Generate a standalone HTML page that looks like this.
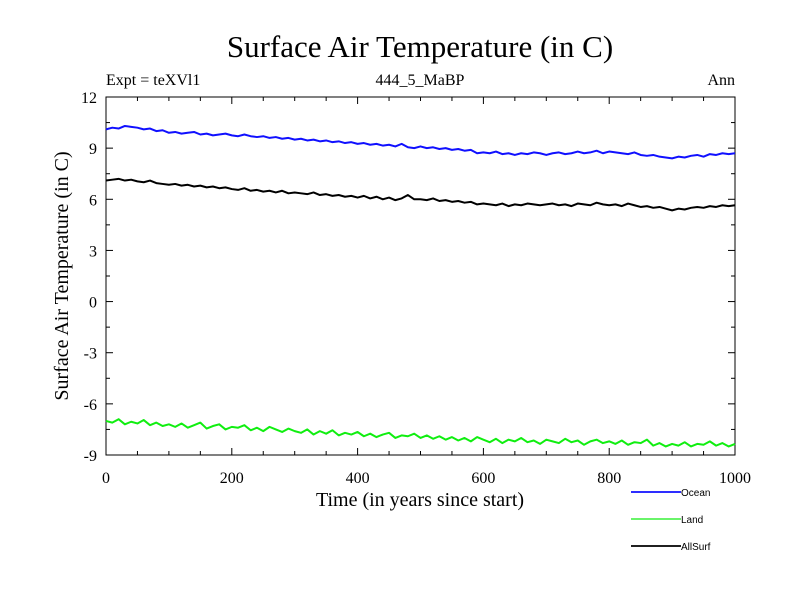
<!DOCTYPE html>
<html><head><meta charset="utf-8"><style>body{margin:0;background:#fff}svg{display:block}text{font-family:"Liberation Serif",serif}</style></head>
<body>
<svg id="chart" width="800" height="600">
<text x="420" y="57" text-anchor="middle" font-size="31">Surface Air Temperature (in C)</text>
<text x="420" y="85" text-anchor="middle" font-size="16">444_5_MaBP</text>
<text x="106" y="85" font-size="16">Expt = teXVl1</text>
<text x="735" y="85" text-anchor="end" font-size="16">Ann</text>
<text x="420" y="506" text-anchor="middle" font-size="20">Time (in years since start)</text>
<text transform="translate(68,276) rotate(-90)" text-anchor="middle" font-size="20">Surface Air Temperature (in C)</text>
<g id="axes"></g><g id="series"></g><g id="legend"></g>
</svg>
<script>
const xTicks=[0,200,400,600,800,1000];
const yTicks=[12,9,6,3,0,-3,-6,-9];
const years=[];for(let i=0;i<=100;i++)years.push(i*10);
const ocean=[10.1,10.2,10.15,10.3,10.25,10.2,10.1,10.15,10.0,10.05,9.9,9.95,9.85,9.9,9.95,9.8,9.85,9.75,9.8,9.85,9.75,9.7,9.8,9.7,9.65,9.7,9.6,9.65,9.55,9.6,9.5,9.55,9.45,9.5,9.4,9.45,9.35,9.4,9.3,9.35,9.25,9.3,9.2,9.25,9.15,9.2,9.1,9.25,9.05,9.0,9.1,9.0,9.05,8.95,9.0,8.9,8.95,8.85,8.9,8.7,8.75,8.7,8.8,8.65,8.7,8.6,8.7,8.65,8.75,8.7,8.6,8.7,8.75,8.65,8.7,8.8,8.7,8.75,8.85,8.7,8.8,8.75,8.7,8.65,8.75,8.6,8.55,8.6,8.5,8.45,8.4,8.5,8.45,8.55,8.6,8.5,8.65,8.6,8.7,8.65,8.7];
const land=[-7.0,-7.1,-6.9,-7.2,-7.05,-7.15,-6.95,-7.25,-7.1,-7.3,-7.2,-7.35,-7.15,-7.4,-7.25,-7.1,-7.45,-7.3,-7.2,-7.5,-7.35,-7.4,-7.25,-7.55,-7.4,-7.6,-7.35,-7.5,-7.65,-7.45,-7.6,-7.7,-7.5,-7.8,-7.6,-7.75,-7.55,-7.85,-7.7,-7.8,-7.65,-7.9,-7.75,-7.95,-7.8,-7.7,-8.0,-7.85,-7.9,-7.75,-8.0,-7.85,-8.05,-7.9,-8.1,-7.95,-8.15,-8.0,-8.2,-7.95,-8.1,-8.25,-8.05,-8.3,-8.1,-8.2,-8.0,-8.25,-8.15,-8.35,-8.1,-8.2,-8.3,-8.05,-8.25,-8.15,-8.4,-8.2,-8.1,-8.3,-8.2,-8.35,-8.15,-8.4,-8.25,-8.3,-8.1,-8.45,-8.3,-8.5,-8.35,-8.45,-8.25,-8.5,-8.35,-8.4,-8.2,-8.45,-8.3,-8.5,-8.35];
const allsurf=[7.1,7.15,7.2,7.1,7.15,7.05,7.0,7.1,6.95,6.9,6.85,6.9,6.8,6.85,6.75,6.8,6.7,6.75,6.65,6.7,6.6,6.55,6.65,6.5,6.55,6.45,6.5,6.4,6.5,6.35,6.4,6.35,6.3,6.4,6.25,6.3,6.2,6.25,6.15,6.2,6.1,6.2,6.05,6.15,6.0,6.1,5.95,6.05,6.25,6.0,6.0,5.95,6.05,5.9,5.95,5.85,5.9,5.8,5.85,5.7,5.75,5.7,5.65,5.75,5.6,5.7,5.65,5.75,5.7,5.65,5.7,5.75,5.65,5.7,5.6,5.75,5.7,5.65,5.8,5.7,5.65,5.7,5.6,5.75,5.65,5.55,5.6,5.5,5.55,5.45,5.35,5.45,5.4,5.5,5.55,5.5,5.6,5.55,5.65,5.6,5.65];
const seriesNames=['Ocean','Land','AllSurf'];
const seriesColors=['#1010ff','#10ee10','#000'];
const L=106,R=735,T=97,B=455,xMin=0,xMax=1000,yMin=-9,yMax=12;
const X=v=>L+(v-xMin)/(xMax-xMin)*(R-L);
const Y=v=>B-(v-yMin)/(yMax-yMin)*(B-T);
const NS='http://www.w3.org/2000/svg';
function mk(tag,attrs,parent){const e=document.createElementNS(NS,tag);for(const k in attrs)e.setAttribute(k,attrs[k]);parent.appendChild(e);return e;}
const axes=document.getElementById('axes');
const frame=mk('rect',{x:L,y:T,width:R-L,height:B-T,fill:'none',stroke:'#000','stroke-width':1},axes);


for(let v=0;v<=1000;v+=50){const len=v%200===0?7:4;
 mk('line',{x1:X(v),x2:X(v),y1:B,y2:B-len,stroke:'#000'},axes);
 mk('line',{x1:X(v),x2:X(v),y1:T,y2:T+len,stroke:'#000'},axes);}
for(let v=-9;v<=12;v+=1.5){const len=(v%3===0)?7:4;
 mk('line',{x1:L,x2:L+len,y1:Y(v),y2:Y(v),stroke:'#000'},axes);
 mk('line',{x1:R,x2:R-len,y1:Y(v),y2:Y(v),stroke:'#000'},axes);}
xTicks.forEach(v=>{const t=mk('text',{x:X(v),y:B+28,'text-anchor':'middle','font-size':16},axes);t.textContent=v;
 
 });
yTicks.forEach(v=>{const t=mk('text',{x:L-9,y:Y(v)+6,'text-anchor':'end','font-size':16},axes);t.textContent=v;
 
 });
const sg=document.getElementById('series');
[ocean,land,allsurf].forEach((d,i)=>{
 const p=mk('polyline',{points:d.map((v,j)=>X(years[j])+','+Y(v)).join(' '),fill:'none',stroke:seriesColors[i],'stroke-width':2,'stroke-linejoin':'round'},sg);
 
 
});
const lg=document.getElementById('legend');
seriesNames.forEach((n,i)=>{const y=492+i*27;
 const g=mk('g',{},lg);
 
 
 mk('line',{x1:631,x2:681,y1:y,y2:y,stroke:seriesColors[i],'stroke-width':i===1?1.3:1.8},g);
 const t=mk('text',{x:681,y:y+4,'font-size':10,style:'font-family:"Liberation Sans",sans-serif'},g);t.textContent=n;});
</script>
</body></html>
